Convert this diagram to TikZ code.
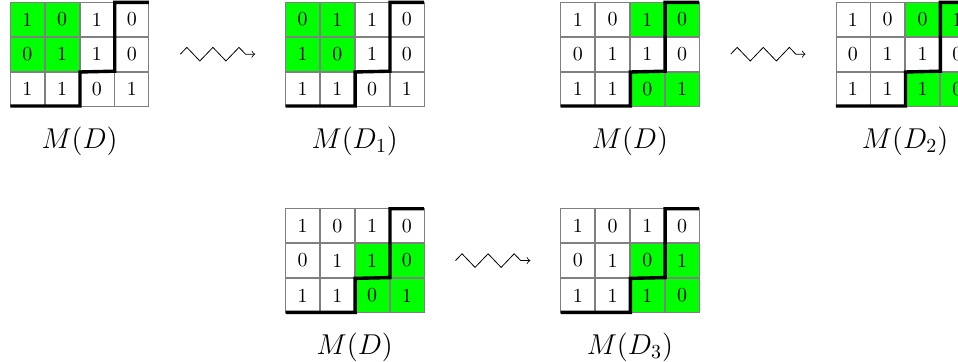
\documentclass[tikz,border=0pt]{standalone}
\usetikzlibrary{matrix,positioning,decorations.pathmorphing}

\begin{document}
\begin{tikzpicture}[
    grid/.style={matrix of nodes, inner sep=0pt, outer sep=0pt, column sep=0pt, row sep=0pt,
      nodes={draw=gray, minimum size=0.6cm, inner sep=0pt, outer sep=0pt, anchor=center}},
    hot/.style={fill=green},
    stair/.style={line width=1.7pt, draw=black},
    mname/.style={font=\Large, inner sep=0pt},
    squig/.style={->, decorate, decoration={zigzag, segment length=0.46cm, amplitude=0.12cm, post length=0.05cm}}
]
    \useasboundingbox (0,0) rectangle (16.906,-6.388);

    % Row 1: first swap
    \matrix[grid, anchor=north west] (m1) at (0.176,-0.035) {
      |[hot]| 1 & |[hot]| 0 & 1 & 0 \\
      |[hot]| 0 & |[hot]| 1 & 1 & 0 \\
      1 & 1 & 0 & 1 \\
    };
    \matrix[grid, right=2.4cm of m1] (m2) {
      |[hot]| 0 & |[hot]| 1 & 1 & 0 \\
      |[hot]| 1 & |[hot]| 0 & 1 & 0 \\
      1 & 1 & 0 & 1 \\
    };

    % Row 1: second swap
    \matrix[grid, right=2.4cm of m2] (m3) {
      1 & 0 & |[hot]| 1 & |[hot]| 0 \\
      0 & 1 & 1 & 0 \\
      1 & 1 & |[hot]| 0 & |[hot]| 1 \\
    };
    \matrix[grid, right=2.4cm of m3] (m4) {
      1 & 0 & |[hot]| 0 & |[hot]| 1 \\
      0 & 1 & 1 & 0 \\
      1 & 1 & |[hot]| 1 & |[hot]| 0 \\
    };

    % Row 2: third swap
    \matrix[grid, below=1.8cm of m2] (m5) {
      1 & 0 & 1 & 0 \\
      0 & 1 & |[hot]| 1 & |[hot]| 0 \\
      1 & 1 & |[hot]| 0 & |[hot]| 1 \\
    };
    \matrix[grid, right=2.4cm of m5] (m6) {
      1 & 0 & 1 & 0 \\
      0 & 1 & |[hot]| 0 & |[hot]| 1 \\
      1 & 1 & |[hot]| 1 & |[hot]| 0 \\
    };

    % Staircase borders
    \foreach \m in {m1,m2,m3,m4,m5,m6}
      \draw[stair] (\m-1-4.north east) -- (\m-1-4.north west) -- (\m-2-4.south west)
        -- (\m-3-3.north west) -- (\m-3-3.south west) -- (\m-3-1.south west);

    % Names
    \node[mname, below=0.35cm of m1] (n1) {$M(D)$};
    \node[mname, below=0.35cm of m2] (n2) {$M(D_1)$};
    \node[mname, below=0.35cm of m3] (n3) {$M(D)$};
    \node[mname, below=0.35cm of m4] (n4) {$M(D_2)$};
    \node[mname, below=0.35cm of m5] (n5) {$M(D)$};
    \node[mname, below=0.35cm of m6] (n6) {$M(D_3)$};

    % Moves
    \draw[squig] ([xshift=0.55cm]m1.east) -- ([xshift=-0.53cm]m2.west);
    \draw[squig] ([xshift=0.55cm]m3.east) -- ([xshift=-0.53cm]m4.west);
    \draw[squig] ([xshift=0.55cm]m5.east) -- ([xshift=-0.53cm]m6.west);

\end{tikzpicture}
\end{document}
